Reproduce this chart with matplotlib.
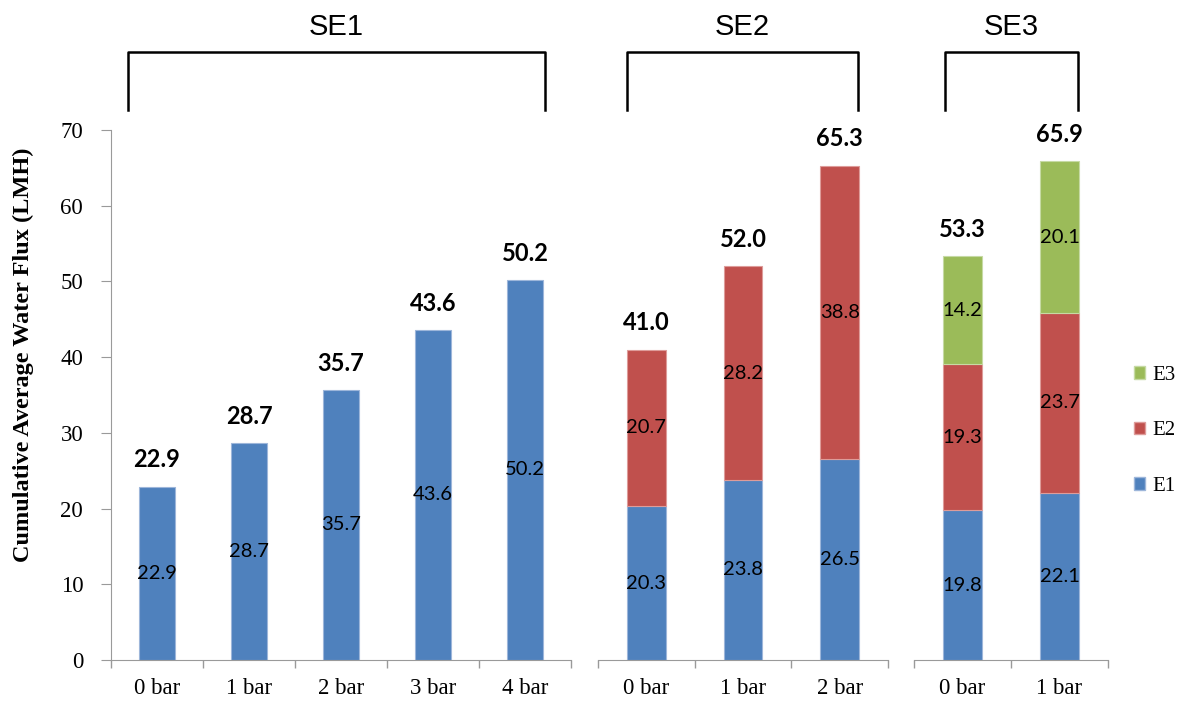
import matplotlib
matplotlib.use("Agg")
import numpy as np
import matplotlib.pyplot as plt
from matplotlib.lines import Line2D
from matplotlib.patches import Patch

# data
se1_cats = ["0 bar", "1 bar", "2 bar", "3 bar", "4 bar"]
se1_e1 = [22.9, 28.7, 35.7, 43.6, 50.2]

se2_cats = ["0 bar", "1 bar", "2 bar"]
se2_e1 = [20.3, 23.8, 26.5]
se2_e2 = [20.7, 28.2, 38.8]

se3_cats = ["0 bar", "1 bar"]
se3_e1 = [19.8, 22.1]
se3_e2 = [19.3, 23.7]
se3_e3 = [14.2, 20.1]

group_names = ["SE1", "SE2", "SE3"]
series_names = ["E1", "E2", "E3"]
colors = ["#4F81BD", "#C0504D", "#9BBB59"]
edge_colors = ["#9DB6DA", "#DE9C9A", "#C6DAA4"]

label_font = "Lato"
serif = "Liberation Serif"
axis_grey = "#9A9A9A"

W, H = 1179, 702
fig = plt.figure(figsize=(W / 100, H / 100), dpi=100)

# axes boxes in pixels: (left, right)
boxes = [(111, 571), (598, 888), (914, 1108)]
y_bot, y_top = 660, 130

groups = [
    (se1_cats, [se1_e1]),
    (se2_cats, [se2_e1, se2_e2]),
    (se3_cats, [se3_e1, se3_e2, se3_e3]),
]

for i, ((l, r), (cats, stacks)) in enumerate(zip(boxes, groups)):
    ax = fig.add_axes([l / W, (H - y_bot) / H, (r - l) / W, (y_bot - y_top) / H])
    n = len(cats)
    x = np.arange(n)
    bottom = np.zeros(n)
    for k, vals in enumerate(stacks):
        vals = np.array(vals)
        ax.bar(x, vals, width=0.4, bottom=bottom, color=colors[k],
               edgecolor=edge_colors[k], linewidth=0.8, zorder=2)
        for xi, b, v in zip(x, bottom, vals):
            ax.text(xi, b + v / 2, f"{v:.1f}", ha="center", va="center",
                    fontsize=14.5, family=label_font, color="black", zorder=3)
        bottom = bottom + vals
    for xi, t in zip(x, bottom):
        ax.text(xi, t + 2.0, f"{t:.1f}", ha="center", va="bottom",
                fontsize=17, fontweight="bold", family=label_font, zorder=3)

    ax.set_xlim(-0.5, n - 0.5)
    ax.set_ylim(0, 70)
    ax.set_xticks(x)
    ax.set_xticklabels(cats, family=serif, fontsize=16.5)
    ax.set_xticks(np.arange(n + 1) - 0.5, minor=True)
    ax.tick_params(axis="x", which="major", length=0, pad=13)
    ax.tick_params(axis="x", which="minor", length=6, color=axis_grey, width=1)
    for s in ["top", "right"]:
        ax.spines[s].set_visible(False)
    ax.spines["bottom"].set_color(axis_grey)
    if i == 0:
        ax.spines["left"].set_color(axis_grey)
        ax.set_yticks(np.arange(0, 71, 10))
        ax.set_yticklabels([str(v) for v in range(0, 71, 10)], family=serif, fontsize=16.5)
        ax.tick_params(axis="y", length=7, color=axis_grey, pad=13)
        ax.set_ylabel("Cumulative Average Water Flux (LMH)", family=serif,
                      fontsize=17.5, fontweight="bold")
        ax.yaxis.set_label_coords(-0.168, 0.575)
    else:
        ax.spines["left"].set_visible(False)
        ax.set_yticks([])

# brackets with group titles
brackets = [(128, 545), (627, 858), (945, 1078)]
for name, (bl, br) in zip(group_names, brackets):
    xs = [bl / W, bl / W, br / W, br / W]
    ys = [(H - 110) / H, (H - 52) / H, (H - 52) / H, (H - 110) / H]
    fig.add_artist(Line2D(xs, ys, transform=fig.transFigure, color="black", lw=1.8))
    fig.text((bl + br) / 2 / W, (H - 27) / H, name, ha="center", va="center",
             family="Liberation Sans", fontsize=21)

handles = [Patch(facecolor=colors[k], edgecolor=edge_colors[k], label=series_names[k])
           for k in range(3)][::-1]
fig.legend(handles=handles, loc="center left", bbox_to_anchor=(1134 / W, (H - 431) / H),
           frameon=False, prop={"family": serif, "size": 15}, handlelength=0.55,
           handleheight=0.55, handletextpad=0.35, labelspacing=1.75, borderpad=0,
           borderaxespad=0)

fig.savefig("out.png", dpi=100)
